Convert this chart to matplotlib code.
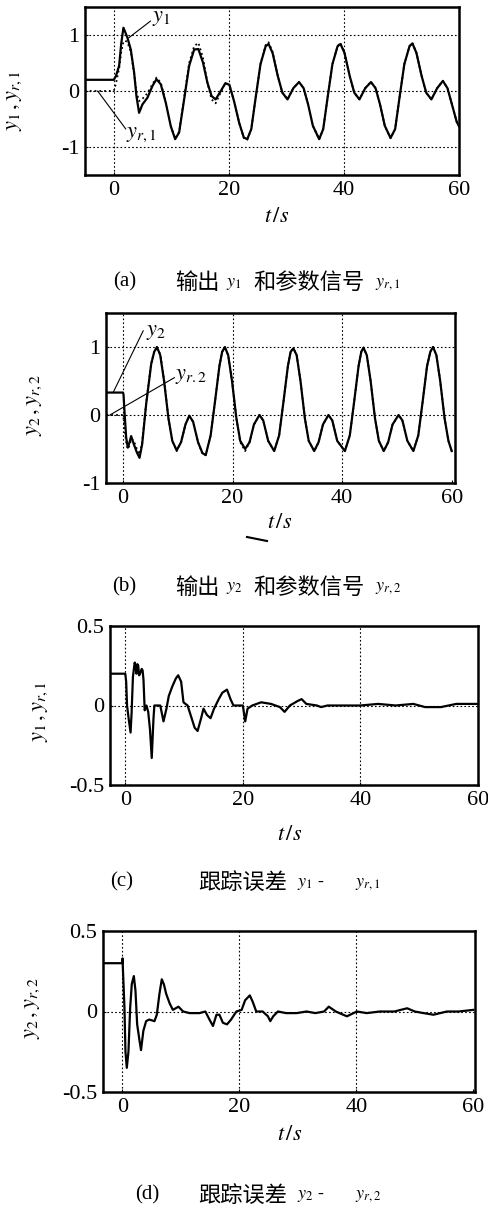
import matplotlib
matplotlib.use("Agg")
import matplotlib.pyplot as plt
from matplotlib.lines import Line2D

plt.rcParams["font.family"] = ["Liberation Serif", "DejaVu Serif"]
plt.rcParams["mathtext.fontset"] = "stix"
plt.rcParams["axes.unicode_minus"] = False

W, H = 489, 1209
CJK = ["Noto Sans CJK SC", "DejaVu Sans"]

# ---- (a) output y1 and reference y_r,1 ----
t_a = [-5, 0, 0.35, 0.93, 1.3, 1.68, 2.0, 2.38, 2.96, 3.54, 3.94, 4.4, 4.98, 5.85,
       6.72, 7.42, 8.17, 9.04, 9.91, 10.67, 11.36, 12.23, 13.1, 13.97, 14.7, 15.5,
       16.27, 17.0, 17.7, 18.6, 19.4, 20.1, 20.9, 21.8, 22.6, 23.2, 23.9, 24.7, 25.5,
       26.4, 26.9, 27.6, 28.5, 29.3, 30.2, 31.2, 32.2, 33.0, 33.8, 34.6, 35.7, 36.4,
       37.2, 38.0, 38.9, 39.4, 40.1, 41.0, 41.8, 42.7, 43.7, 44.7, 45.5, 46.3, 47.1,
       48.1, 48.9, 49.7, 50.5, 51.4, 51.9, 52.6, 53.5, 54.3, 55.2, 56.2, 57.2, 58.0,
       58.8, 59.6, 60]
y1 = [0.2, 0.2, 0.26, 0.45, 0.85, 1.13, 1.05, 0.95, 0.74, 0.33, -0.09, -0.39, -0.24, -0.12,
      0.09, 0.21, 0.12, -0.21, -0.63, -0.86, -0.74, -0.15, 0.45, 0.74, 0.75, 0.51,
      0.15, -0.09, -0.15, 0.0, 0.14, 0.11, -0.18, -0.57, -0.83, -0.86, -0.68, -0.09, 0.48,
      0.80, 0.84, 0.68, 0.27, -0.03, -0.15, 0.05, 0.16, 0.05, -0.25, -0.62, -0.86, -0.68,
      -0.09, 0.48, 0.80, 0.84, 0.68, 0.27, -0.03, -0.15, 0.05, 0.16, 0.05, -0.25, -0.62,
      -0.84, -0.68, -0.09, 0.48, 0.80, 0.85, 0.68, 0.27, -0.03, -0.15, 0.05, 0.18, 0.05,
      -0.25, -0.55, -0.63]
yr1 = [0.0, 0.0, 0.12, 0.40, 0.70, 0.88, 0.90, 0.87, 0.70, 0.30, -0.02, -0.18, -0.14, -0.04,
       0.12, 0.24, 0.15, -0.20, -0.62, -0.85, -0.73, -0.12, 0.50, 0.80, 0.86, 0.60,
       0.15, -0.15, -0.22, -0.02, 0.14, 0.11, -0.18, -0.57, -0.84, -0.87, -0.68, -0.09, 0.48,
       0.82, 0.87, 0.70, 0.27, -0.03, -0.15, 0.05, 0.16, 0.05, -0.25, -0.62, -0.86, -0.68,
       -0.09, 0.48, 0.80, 0.86, 0.68, 0.27, -0.03, -0.15, 0.05, 0.16, 0.05, -0.25, -0.62,
       -0.84, -0.68, -0.09, 0.48, 0.80, 0.86, 0.68, 0.27, -0.03, -0.15, 0.05, 0.18, 0.05,
       -0.25, -0.55, -0.63]

# ---- (b) output y2 and reference y_r,2 ----
t_b = [-3, 0, 0.1, 0.27, 0.58, 0.88, 1.2, 1.49, 1.98, 2.53, 3.02, 3.5, 4.23, 5.15, 5.7, 6.2,
       6.8, 7.5, 8.3, 9.0, 9.8, 10.6, 11.4, 12.1, 12.8, 13.7, 14.5, 15.1, 16.0, 16.8, 17.6, 18.1, 18.6,
       19.2, 19.9, 20.7, 21.4, 22.3, 23.1, 23.9, 24.9, 25.6, 26.5, 27.6, 28.5, 29.3, 30.1, 30.6, 31.1,
       31.7, 32.4, 33.2, 33.9, 34.9, 35.7, 36.5, 37.5, 38.2, 39.1, 40.5, 41.4, 42.2, 43.0, 43.5, 43.9,
       44.5, 45.2, 46.0, 46.7, 47.6, 48.4, 49.2, 50.3, 51.0, 51.9, 53.0, 53.9, 54.7, 55.5, 56.1, 56.6,
       57.2, 57.9, 58.7, 59.4, 60]
y2 = [0.33, 0.33, 0.30, 0.06, -0.33, -0.48, -0.40, -0.31, -0.43, -0.55, -0.63, -0.43, 0.16, 0.75, 0.93, 1.0,
      0.88, 0.5, -0.05, -0.38, -0.52, -0.40, -0.14, -0.01, -0.10, -0.40, -0.56, -0.59, -0.30, 0.2, 0.72, 0.93, 1.0,
      0.88, 0.5, -0.05, -0.38, -0.50, -0.40, -0.14, 0.0, -0.08, -0.38, -0.53, -0.30, 0.2, 0.72, 0.93, 0.98,
      0.88, 0.5, -0.05, -0.38, -0.53, -0.40, -0.14, 0.0, -0.08, -0.38, -0.53, -0.30, 0.2, 0.72, 0.93, 0.99,
      0.88, 0.5, -0.05, -0.38, -0.53, -0.40, -0.14, 0.0, -0.08, -0.38, -0.53, -0.30, 0.2, 0.72, 0.93, 1.0,
      0.88, 0.5, -0.05, -0.38, -0.53]
yr2 = [0.0, 0.0, -0.05, -0.20, -0.40, -0.50, -0.45, -0.35, -0.38, -0.50, -0.58, -0.40, 0.18, 0.76, 0.93, 0.97,
       0.90, 0.52, -0.05, -0.38, -0.53, -0.40, -0.14, -0.01, -0.10, -0.40, -0.57, -0.59, -0.30, 0.2, 0.72, 0.93, 0.98,
       0.88, 0.5, -0.05, -0.40, -0.53, -0.40, -0.14, 0.0, -0.08, -0.38, -0.53, -0.30, 0.2, 0.72, 0.93, 0.98,
       0.88, 0.5, -0.05, -0.38, -0.53, -0.40, -0.14, 0.0, -0.08, -0.38, -0.53, -0.30, 0.2, 0.72, 0.93, 0.99,
       0.88, 0.5, -0.05, -0.38, -0.53, -0.40, -0.14, 0.0, -0.08, -0.38, -0.53, -0.30, 0.2, 0.72, 0.93, 1.0,
       0.88, 0.5, -0.05, -0.38, -0.53]

# ---- (c) tracking error y1 - y_r,1 ----
t_c = [-2.5, 0, 0.15, 0.3, 0.6, 0.9, 1.07, 1.3, 1.6, 1.75, 1.9, 2.05, 2.2, 2.35, 2.5, 2.8,
       2.95, 3.1, 3.3, 3.6, 3.9, 4.2, 4.5, 4.8, 4.95, 5.4, 5.95, 6.5, 7.0, 7.4, 8.0, 8.6,
       9.0, 9.5, 9.9, 10.6, 11.2, 11.8, 12.3, 12.9, 13.3, 13.9, 14.5, 15.1, 15.9, 16.5,
       17.3, 17.9, 18.4, 19.2, 20.0, 20.4, 20.8, 21.6, 23.1, 24.8, 26.3, 27.1, 28.0,
       29.4, 30.0, 30.8, 32.6, 33.3, 34.4, 37, 40, 43, 46, 49, 51, 53.7, 56.3, 58, 60]
e1 = [0.2, 0.2, 0.15, 0.0, -0.09, -0.17, -0.05, 0.18, 0.27, 0.25, 0.20, 0.26, 0.25, 0.19, 0.2, 0.23,
      0.22, 0.16, -0.03, 0.0, -0.04, -0.15, -0.33, -0.08, 0.0, 0.0, 0.0, -0.1, -0.02, 0.06, 0.12, 0.17,
      0.19, 0.15, 0.02, 0.0, -0.07, -0.14, -0.16, -0.08, -0.02, -0.06, -0.08, -0.02, 0.04, 0.08,
      0.10, 0.04, 0.0, 0.0, 0.0, -0.1, -0.02, 0.0, 0.02, 0.01, -0.01, -0.04, 0.0,
      0.03, 0.04, 0.01, 0.0, -0.01, 0.0, 0.0, 0.0, 0.01, 0.0, 0.01, -0.01, -0.01, 0.01, 0.01, 0.01]

# ---- (d) tracking error y2 - y_r,2 ----
t_d = [-3.3, 0, 0.05, 0.1, 0.37, 0.54, 0.77, 1.05, 1.34, 1.62, 1.97, 2.25, 2.54, 2.94, 3.2,
       3.6, 4.07, 4.6, 5.5, 5.9, 6.35, 6.75, 7.1, 7.5, 8.1, 8.65, 9.6, 10.4, 11.5, 13.2,
       14.2, 14.9, 15.5, 16.1, 16.6, 17.2, 17.9, 18.6, 19.5, 20.4, 21.0, 21.8, 22.3, 22.9,
       24.0, 24.9, 25.3, 25.8, 26.6, 28.0, 29.8, 31.5, 33.0, 34.5, 35.3, 36.5, 38.4, 40.1,
       41.8, 44, 46.5, 48.7, 50, 51.5, 53.2, 55.5, 57.5, 60]
e2 = [0.30, 0.30, 0.33, 0.27, 0.02, -0.25, -0.35, -0.25, 0.02, 0.17, 0.22, 0.13, -0.08, -0.18, -0.24,
      -0.12, -0.06, -0.05, -0.06, -0.02, 0.11, 0.20, 0.17, 0.11, 0.05, 0.01, 0.03, 0.0, -0.01, -0.01,
      0.0, -0.05, -0.09, -0.02, -0.02, -0.07, -0.08, -0.05, 0.0, 0.01, 0.07, 0.10, 0.06, 0.0,
      0.0, -0.03, -0.06, -0.03, 0.0, -0.01, -0.01, 0.0, -0.01, 0.0, 0.03, 0.0, -0.03, 0.0,
      -0.01, 0.0, 0.0, 0.02, 0.0, -0.01, -0.02, 0.0, 0.0, 0.01]


def rect(l, t, r, b):
    return [l / W, 1 - b / H, (r - l) / W, (b - t) / H]


def fig_text(fig, x, y, s, **kw):
    kw.setdefault("va", "center")
    fig.text(x / W, 1 - y / H, s, **kw)


def style(ax, xlim, ylim, yticks, yticklabels, grid_y):
    ax.set_xlim(*xlim)
    ax.set_ylim(*ylim)
    ax.set_xticks([0, 20, 40, 60])
    ax.set_xticklabels(["0", "20", "40", "60"])
    ax.set_yticks(yticks)
    ax.set_yticklabels(yticklabels)
    ax.tick_params(direction="in", length=2.5, width=0.8, labelsize=16, pad=4)
    for s in ax.spines.values():
        s.set_linewidth(1.8)
    # dotted grid, only at interior ticks
    for x in [0, 20, 40]:
        ax.axvline(x, color="k", lw=0.8, ls=(0, (1.5, 2)), zorder=1)
    for y in grid_y:
        ax.axhline(y, color="k", lw=0.8, ls=(0, (1.5, 2)), zorder=1)


fig = plt.figure(figsize=(W / 100, H / 100), dpi=100)
arrow = dict(arrowstyle="-", lw=0.8, color="k", shrinkA=0, shrinkB=0)

# (a)
ax = fig.add_axes(rect(85, 7, 459, 175))
style(ax, (-5, 60), (-1.5, 1.5), [-1, 0, 1], ["-1", "0", "1"], [-1, 0, 1])
ax.plot(t_a, yr1, color="k", lw=1.3, ls=":", zorder=2)
ax.plot(t_a, y1, color="k", lw=1.6, zorder=3)
ax.annotate("", xy=(2.6, 0.95), xytext=(6.4, 1.25), arrowprops=arrow)
ax.text(6.6, 1.3, "$y_1$", fontsize=16, va="center")
ax.annotate("", xy=(-2.8, 0.0), xytext=(2.1, -0.68), arrowprops=arrow)
ax.text(2.1, -0.77, "$y_{r,1}$", fontsize=16, va="center")
fig_text(fig, 15, 101, "$y_1\\,,y_{r,1}$", fontsize=16, rotation=90, ha="center")
fig_text(fig, 277, 217, "$t\\,/s$", fontsize=16, ha="center")

# (b)
ax = fig.add_axes(rect(106, 313, 455, 483))
style(ax, (-3.1, 60.6), (-1, 1.5), [-1, 0, 1], ["-1", "0", "1"], [0, 1])
ax.plot(t_b, yr2, color="k", lw=1.3, ls=":", zorder=2)
ax.plot(t_b, y2, color="k", lw=1.6, zorder=3)
ax.annotate("", xy=(-1.8, 0.33), xytext=(3.7, 1.24), arrowprops=arrow)
ax.text(4.2, 1.22, "$y_2$", fontsize=16, va="center")
ax.annotate("", xy=(-2.4, 0.0), xytext=(9.4, 0.55), arrowprops=arrow)
ax.text(9.5, 0.56, "$y_{r.2}$", fontsize=16, va="center")
fig_text(fig, 35, 405, "$y_2\\,,y_{r,2}$", fontsize=16, rotation=90, ha="center")
fig_text(fig, 280, 523, "$t\\,/s$", fontsize=16, ha="center")
# small scan mark under the axis label
fig.add_artist(Line2D([247 / W, 267 / W], [1 - 537 / H, 1 - 541 / H], color="k", lw=1.5))

# (c)
ax = fig.add_axes(rect(110, 626, 478, 785))
style(ax, (-2.6, 60), (-0.5, 0.5), [-0.5, 0, 0.5], ["-0.5", "0", "0.5"], [0])
ax.plot(t_c, e1, color="k", lw=1.6, zorder=3)
fig_text(fig, 40, 712, "$y_1\\,,y_{r,1}$", fontsize=16, rotation=90, ha="center")
fig_text(fig, 290, 836, "$t\\,/s$", fontsize=16, ha="center")

# (d)
ax = fig.add_axes(rect(103, 931, 475, 1092))
style(ax, (-3.3, 60.3), (-0.5, 0.5), [-0.5, 0, 0.5], ["-0.5", "0", "0.5"], [0])
ax.plot(t_d, e2, color="k", lw=1.6, zorder=3)
fig_text(fig, 33, 1008, "$y_2\\,,y_{r,2}$", fontsize=16, rotation=90, ha="center")
fig_text(fig, 290, 1135, "$t\\,/s$", fontsize=16, ha="center")

# captions
captions = [
    (282, 113, "(a)", "输出", "$y_1$", "和参数信号", "$y_{r,1}$"),
    (587, 112, "(b)", "输出", "$y_2$", "和参数信号", "$y_{r,2}$"),
]
for y, xl, lab, c1, m1, c2, m2 in captions:
    fig_text(fig, xl, y, lab, fontsize=15)
    fig_text(fig, 175, y, c1, fontsize=16, family=CJK, weight="medium")
    fig_text(fig, 226, y + 1, m1, fontsize=13)
    fig_text(fig, 253, y, c2, fontsize=16, family=CJK, weight="medium")
    fig_text(fig, 375, y + 1, m2, fontsize=13)

errors = [
    (882, 110, "(c)", "$y_1$ -", "$y_{r,1}$"),
    (1195, 135, "(d)", "$y_2$ -", "$y_{r,2}$"),
]
for y, xl, lab, m1, m2 in errors:
    fig_text(fig, xl, y, lab, fontsize=15)
    fig_text(fig, 198, y, "跟踪误差", fontsize=16, family=CJK, weight="medium")
    fig_text(fig, 297, y + 1, m1, fontsize=13)
    fig_text(fig, 355, y + 1, m2, fontsize=13)

fig.savefig("out.png", dpi=100)
